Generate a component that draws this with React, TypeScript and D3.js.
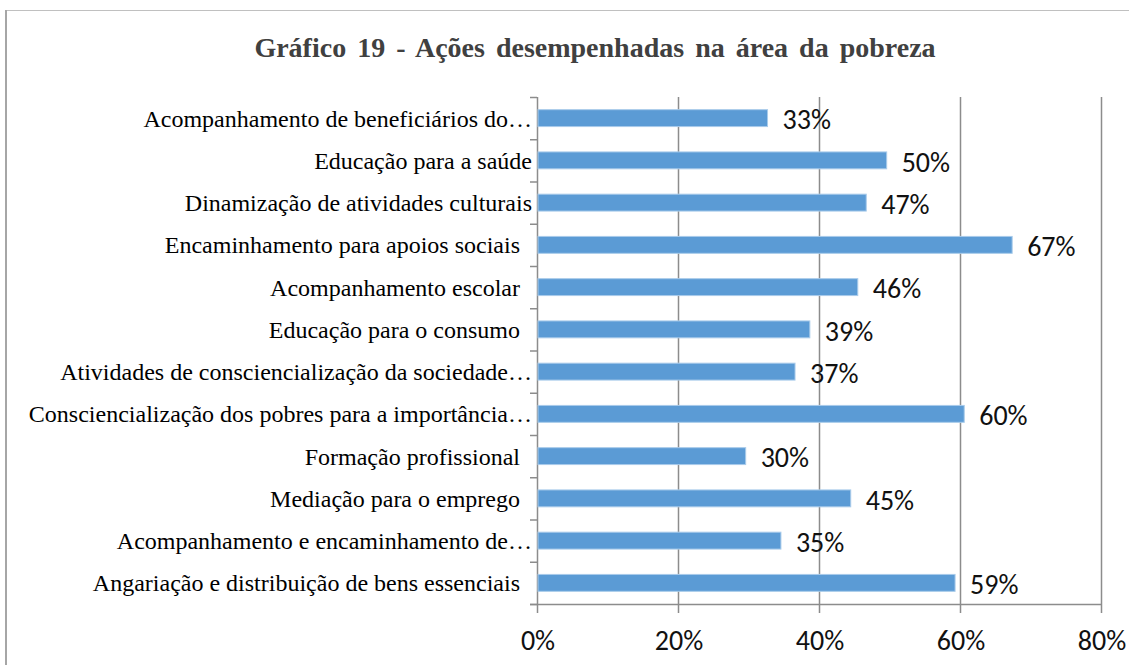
import { useEffect, useRef } from "react"
import * as d3 from "d3"

const categories = [
  "Acompanhamento de beneficiários do…",
  "Educação para a saúde",
  "Dinamização de atividades culturais",
  "Encaminhamento para apoios sociais  ",
  "Acompanhamento escolar  ",
  "Educação para o consumo  ",
  "Atividades de consciencialização da sociedade…",
  "Consciencialização dos pobres para a importância…",
  "Formação profissional  ",
  "Mediação para o emprego  ",
  "Acompanhamento e encaminhamento de…",
  "Angariação e distribuição de bens essenciais  ",
]

const values = [32.7, 49.6, 46.7, 67.4, 45.5, 38.7, 36.6, 60.6, 29.6, 44.5, 34.6, 59.3]
const valueLabels = ["33%", "50%", "47%", "67%", "46%", "39%", "37%", "60%", "30%", "45%", "35%", "59%"]
const xTicks = [0, 20, 40, 60, 80]

const title = "Gráfico 19 - Ações desempenhadas na área da pobreza"

export default function App() {
  const svgRef = useRef<SVGSVGElement>(null)

  useEffect(() => {
    if (!svgRef.current) return
    const svg = d3.select(svgRef.current)
    svg.selectAll("*").remove()

    const width = 1129
    const height = 665
    const left = 537
    const right = 1101
    const top = 97
    const bottom = 604

    // frame of the chart area (cut off at the right and bottom)
    svg.append("line").attr("x1", 6).attr("x2", width).attr("y1", 10.5).attr("y2", 10.5)
      .attr("stroke", "#c0c0c0").attr("stroke-width", 1)
    svg.append("line").attr("x1", 6).attr("x2", 6).attr("y1", 10).attr("y2", height)
      .attr("stroke", "#a6a6a6").attr("stroke-width", 2)

    svg.append("text")
      .attr("x", 595)
      .attr("y", 57)
      .attr("text-anchor", "middle")
      .attr("font-family", "'Liberation Serif', 'Times New Roman', serif")
      .attr("font-weight", "bold")
      .attr("font-size", 28)
      .attr("word-spacing", 4)
      .attr("fill", "#404040")
      .text(title)

    const x = d3.scaleLinear().domain([0, 80]).range([left, right])
    const y = d3.scaleBand<string>().domain(categories).range([top, bottom]).paddingInner(0.6).paddingOuter(0.3)

    const g = svg.append("g")

    // vertical gridlines
    g.selectAll("line.grid")
      .data(xTicks.slice(1))
      .enter()
      .append("line")
      .attr("class", "grid")
      .attr("x1", (d) => x(d) + 0.5)
      .attr("x2", (d) => x(d) + 0.5)
      .attr("y1", top)
      .attr("y2", bottom + 9)
      .attr("stroke", "#8c8c8c")
      .attr("stroke-width", 1.5)

    // x axis line + tick at 0
    g.append("line").attr("x1", left - 7).attr("x2", right).attr("y1", bottom + 0.5).attr("y2", bottom + 0.5)
      .attr("stroke", "#8c8c8c").attr("stroke-width", 1.5)
    g.append("line").attr("x1", left + 0.5).attr("x2", left + 0.5).attr("y1", top).attr("y2", bottom + 9)
      .attr("stroke", "#8c8c8c").attr("stroke-width", 1.5)

    // y axis category ticks
    const step = (bottom - top) / categories.length
    const bounds = d3.range(categories.length + 1).map((i) => top + i * step)
    g.selectAll("line.ytick")
      .data(bounds)
      .enter()
      .append("line")
      .attr("class", "ytick")
      .attr("x1", left - 7)
      .attr("x2", left)
      .attr("y1", (d) => d + 0.5)
      .attr("y2", (d) => d + 0.5)
      .attr("stroke", "#8c8c8c")
      .attr("stroke-width", 1.5)

    // bars
    g.selectAll("rect.bar")
      .data(values)
      .enter()
      .append("rect")
      .attr("class", "bar")
      .attr("x", left + 1)
      .attr("y", (d, i) => y(categories[i])!)
      .attr("width", (d) => x(d) - left - 1)
      .attr("height", y.bandwidth())
      .attr("fill", "#5b9bd5")
      .attr("stroke", "#a9cbea")
      .attr("stroke-width", 1)

    // value labels
    g.selectAll("text.val")
      .data(values)
      .enter()
      .append("text")
      .attr("class", "val")
      .attr("x", (d) => x(d) + 15)
      .attr("y", (d, i) => y(categories[i])! + y.bandwidth() / 2)
      .attr("dy", "0.4em")
      .attr("font-family", "Carlito, Calibri, Roboto, sans-serif")
      .attr("font-size", 28)
      .attr("fill", "#111")
      .text((d, i) => valueLabels[i])

    // category labels
    g.selectAll("text.cat")
      .data(categories)
      .enter()
      .append("text")
      .attr("class", "cat")
      .attr("x", left - 5)
      .attr("y", (d) => y(d)! + y.bandwidth() / 2)
      .attr("dy", "0.35em")
      .attr("text-anchor", "end")
      .attr("font-family", "'Liberation Serif', 'Times New Roman', serif")
      .attr("font-size", 24)
      .attr("fill", "#000")
      .style("white-space", "pre")
      .text((d) => d)

    // x tick labels
    g.selectAll("text.xt")
      .data(xTicks)
      .enter()
      .append("text")
      .attr("class", "xt")
      .attr("x", (d) => x(d) + 1)
      .attr("y", 650)
      .attr("text-anchor", "middle")
      .attr("font-family", "Carlito, Calibri, Roboto, sans-serif")
      .attr("font-size", 28)
      .attr("fill", "#111")
      .text((d) => `${d}%`)
  }, [])

  return (
    <svg
      ref={svgRef}
      width={1129}
      height={665}
      style={{ position: "absolute", left: 0, top: 0, background: "#fff" }}
    />
  )
}
